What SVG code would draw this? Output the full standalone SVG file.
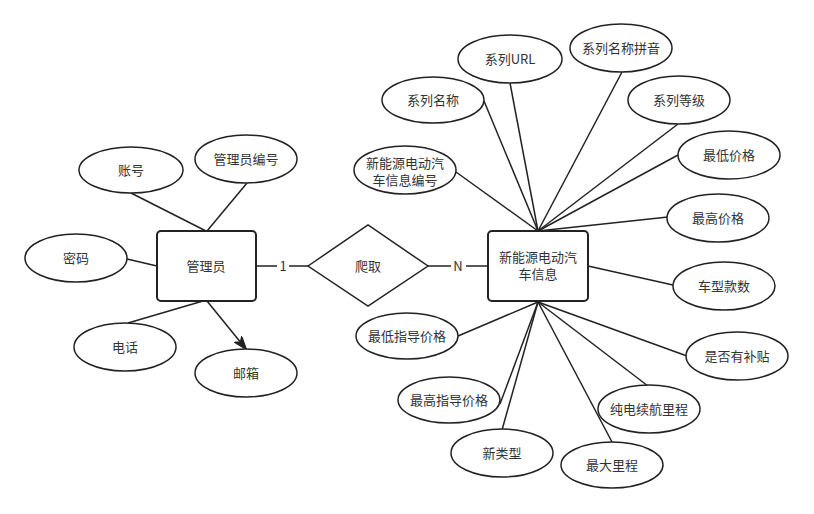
<svg xmlns="http://www.w3.org/2000/svg" width="814" height="514" viewBox="0 0 814 514">
<style>
.e{fill:#fff;stroke:#222;stroke-width:1.5}
.b{fill:#fff;stroke:#222;stroke-width:2}
.l{fill:none;stroke:#222;stroke-width:1.5}
text{font-family:"Noto Sans CJK SC","Liberation Sans",sans-serif;font-size:13px;fill:#333;text-anchor:middle}
</style>
<defs>
<marker id="arr" viewBox="0 0 14 10" refX="13" refY="5" markerWidth="14" markerHeight="10" markerUnits="userSpaceOnUse" orient="auto">
<path d="M0,0 L14,5 L0,10 L4,5 z" fill="#222" stroke="#222" stroke-width="1"/>
</marker>
</defs>
<rect width="814" height="514" fill="#fff"/>
<g id="connectors">
<line class="l" x1="131" y1="193" x2="206" y2="231"/>
<line class="l" x1="247" y1="183" x2="207" y2="231"/>
<line class="l" x1="127" y1="259" x2="157" y2="266"/>
<line class="l" x1="128" y1="323" x2="203" y2="301"/>
<line class="l" x1="207" y1="301" x2="246" y2="349" marker-end="url(#arr)"/>
<line class="l" x1="256" y1="266" x2="277" y2="266"/>
<line class="l" x1="289" y1="266" x2="308" y2="266"/>
<line class="l" x1="428" y1="266" x2="451" y2="266"/>
<line class="l" x1="466" y1="266" x2="488" y2="266"/>
<line class="l" x1="484" y1="101" x2="538" y2="231"/>
<line class="l" x1="510" y1="83" x2="538" y2="231"/>
<line class="l" x1="622" y1="72" x2="538" y2="231"/>
<line class="l" x1="678" y1="124" x2="538" y2="231"/>
<line class="l" x1="678" y1="155" x2="538" y2="231"/>
<line class="l" x1="668" y1="217" x2="538" y2="231"/>
<line class="l" x1="456" y1="172" x2="538" y2="231"/>
<line class="l" x1="588" y1="266" x2="673" y2="285"/>
<line class="l" x1="458" y1="336" x2="538" y2="302"/>
<line class="l" x1="687" y1="356" x2="538" y2="302"/>
<line class="l" x1="500" y1="404" x2="538" y2="302"/>
<line class="l" x1="502" y1="430" x2="538" y2="302"/>
<line class="l" x1="648" y1="386" x2="538" y2="302"/>
<line class="l" x1="612" y1="442" x2="538" y2="302"/>
</g>
<g id="n-admin"><rect class="b" x="157" y="231" width="99" height="70" rx="4"/><text x="206" y="271">管理员</text></g>
<g id="n-crawl"><polygon class="e" points="308,266 368,225 428,266 368,306"/><text x="368" y="271">爬取</text></g>
<text x="283" y="271">1</text>
<text x="458" y="271">N</text>
<g id="n-car"><rect class="b" x="488" y="231" width="100" height="70" rx="4"/><text x="538" y="262">新能源电动汽</text><text x="538" y="279">车信息</text></g>
<g id="a-account"><ellipse class="e" cx="131" cy="170" rx="52" ry="23"/><text x="131" y="175">账号</text></g>
<g id="a-adminno"><ellipse class="e" cx="246" cy="159" rx="51" ry="24"/><text x="246" y="164">管理员编号</text></g>
<g id="a-pwd"><ellipse class="e" cx="76" cy="258" rx="51" ry="24"/><text x="76" y="263">密码</text></g>
<g id="a-phone"><ellipse class="e" cx="125" cy="347" rx="51" ry="24"/><text x="125" y="352">电话</text></g>
<g id="a-mail"><ellipse class="e" cx="246" cy="373" rx="51" ry="24"/><text x="246" y="378">邮箱</text></g>
<g id="a-url"><ellipse class="e" cx="510" cy="59" rx="52" ry="24"/><text x="510" y="64">系列URL</text></g>
<g id="a-pinyin"><ellipse class="e" cx="621" cy="48" rx="51" ry="24"/><text x="621" y="53">系列名称拼音</text></g>
<g id="a-name"><ellipse class="e" cx="433" cy="100" rx="51" ry="23"/><text x="433" y="105">系列名称</text></g>
<g id="a-level"><ellipse class="e" cx="679" cy="100" rx="51" ry="24"/><text x="679" y="105">系列等级</text></g>
<g id="a-carno"><ellipse class="e" cx="405" cy="170" rx="51" ry="24"/><text x="405" y="168">新能源电动汽</text><text x="405" y="185">车信息编号</text></g>
<g id="a-minprice"><ellipse class="e" cx="729" cy="155" rx="51" ry="24"/><text x="729" y="160">最低价格</text></g>
<g id="a-maxprice"><ellipse class="e" cx="718" cy="218" rx="51" ry="24"/><text x="718" y="223">最高价格</text></g>
<g id="a-models"><ellipse class="e" cx="724" cy="286" rx="51" ry="24"/><text x="724" y="291">车型款数</text></g>
<g id="a-minguide"><ellipse class="e" cx="407" cy="336" rx="51" ry="23"/><text x="407" y="341">最低指导价格</text></g>
<g id="a-subsidy"><ellipse class="e" cx="737" cy="356" rx="51" ry="24"/><text x="737" y="361">是否有补贴</text></g>
<g id="a-maxguide"><ellipse class="e" cx="449" cy="400" rx="51" ry="23"/><text x="449" y="405">最高指导价格</text></g>
<g id="a-type"><ellipse class="e" cx="502" cy="453" rx="51" ry="24"/><text x="502" y="458">新类型</text></g>
<g id="a-range"><ellipse class="e" cx="649" cy="409" rx="51" ry="24"/><text x="649" y="414">纯电续航里程</text></g>
<g id="a-maxmile"><ellipse class="e" cx="612" cy="465" rx="51" ry="23"/><text x="612" y="470">最大里程</text></g>
</svg>
